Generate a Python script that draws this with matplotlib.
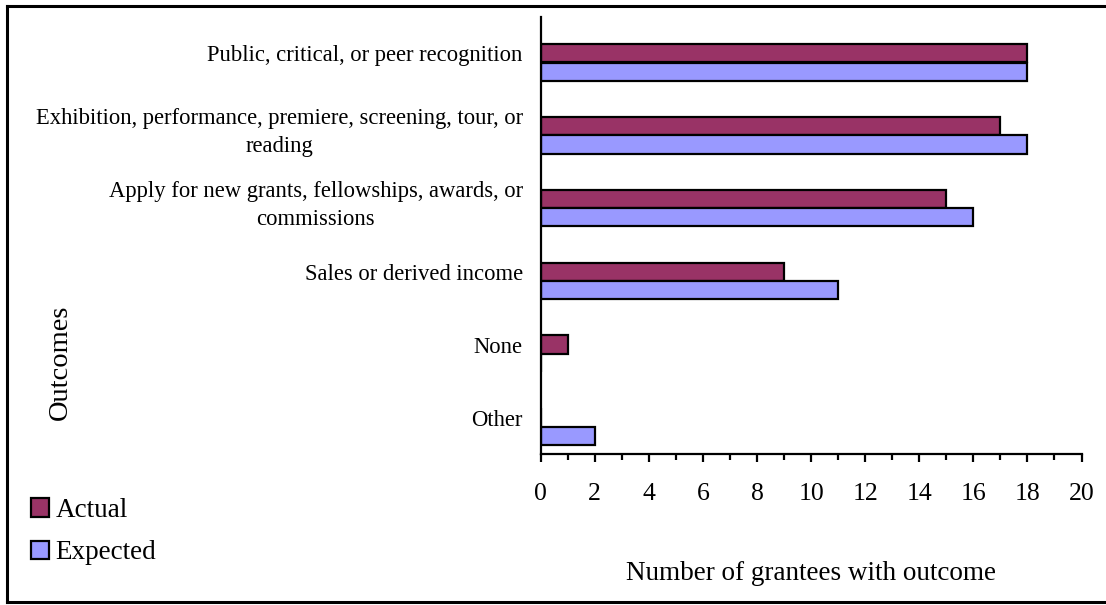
import matplotlib
matplotlib.use("Agg")
import matplotlib.pyplot as plt
from matplotlib.patches import Patch
from matplotlib.lines import Line2D
from matplotlib.ticker import MultipleLocator

categories = [
    "Public, critical, or peer recognition",
    "Exhibition, performance, premiere, screening, tour, or\nreading",
    "Apply for new grants, fellowships, awards, or\ncommissions",
    "Sales or derived income",
    "None",
    "Other",
]
actual = [18, 17, 15, 9, 1, 0]
expected = [18, 18, 16, 11, 0, 2]
series_names = ["Actual", "Expected"]
colors = ["#993366", "#9999FF"]
xticks = [0, 2, 4, 6, 8, 10, 12, 14, 16, 18, 20]

plt.rcParams['font.family'] = ['Liberation Serif', 'DejaVu Serif']

W, H = 1106, 605
fig = plt.figure(figsize=(W / 100, H / 100), dpi=100)

def fx(px):
    return px / W

def fy(py):
    return 1 - py / H

left, right, top, bottom = 540.7, 1081.5, 17, 454
ax = fig.add_axes([fx(left), fy(bottom), fx(right) - fx(left), fy(top) - fy(bottom)])

pos = list(range(len(categories)))
bh = 0.25
ax.barh([p - 0.003 for p in pos], actual, height=bh, color=colors[0],
        edgecolor="black", linewidth=1.6)
ax.barh([p + 0.25 for p in pos], expected, height=bh, color=colors[1],
        edgecolor="black", linewidth=1.6)

ax.set_xlim(0, 20)
ax.set_ylim(len(categories) - 0.5, -0.5)
ax.set_yticks(pos)
ax.set_yticklabels(categories, fontsize=16.3, multialignment="center",
                   linespacing=1.45)
for lbl in ax.get_yticklabels():
    if "\n" in lbl.get_text():
        lbl.set_y(lbl.get_position()[1])
ax.tick_params(axis="y", length=0, pad=13)
ax.set_xticks(xticks)
ax.set_xticklabels([str(t) for t in xticks], fontsize=18.5)
ax.xaxis.set_minor_locator(MultipleLocator(1))
ax.tick_params(axis="x", which="major", direction="out", length=6, width=1.6, pad=15)
ax.tick_params(axis="x", which="minor", direction="out", length=4.5, width=1.6)
for s in ["top", "right"]:
    ax.spines[s].set_visible(False)
for s in ["left", "bottom"]:
    ax.spines[s].set_linewidth(1.6)

fig.text(fx(811), fy(573), "Number of grantees with outcome", fontsize=19.5,
         ha="center", va="center")
fig.text(fx(60), fy(362), "Outcomes", fontsize=20.5, rotation=90,
         ha="center", va="center")

handles = [Patch(facecolor=c, edgecolor="black", linewidth=1.6) for c in colors]
fig.legend(handles, series_names, loc="upper left",
           bbox_to_anchor=(fx(31), fy(498)), frameon=False, fontsize=19.5,
           handlelength=0.68, handleheight=0.68, handletextpad=0.22,
           labelspacing=0.64, borderaxespad=0, borderpad=0)

# outer border (right side falls outside the image)
for (x0, y0, x1, y1) in [(7.3, 5.7, 1110, 5.7), (7.3, 5.7, 7.3, 602), (7.3, 602, 1110, 602)]:
    fig.add_artist(Line2D([fx(x0), fx(x1)], [fy(y0), fy(y1)], color="black",
                          linewidth=2.2, transform=fig.transFigure))

fig.savefig("out.png", dpi=100)
